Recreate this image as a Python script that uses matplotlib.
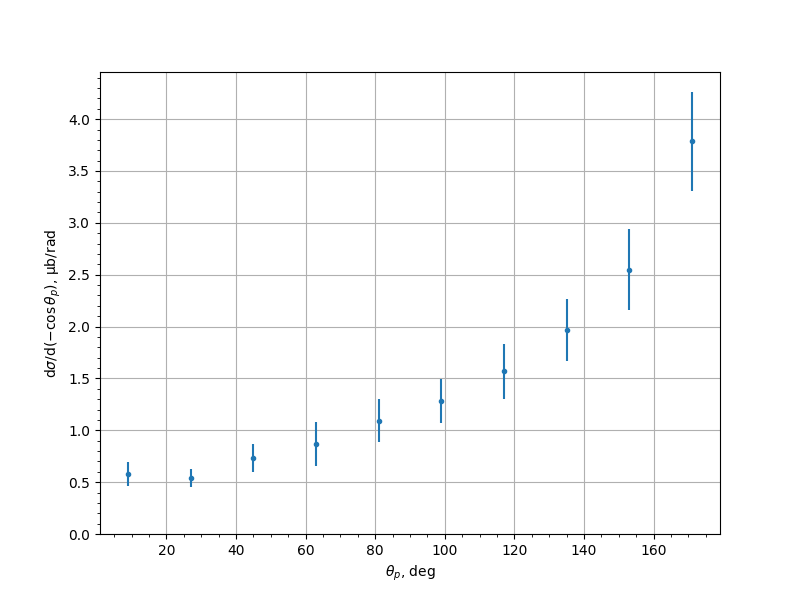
import matplotlib
matplotlib.use('Agg')
import matplotlib.pyplot as plt

# bin centres in theta_p (deg) and measured cross section
theta = [9, 27, 45, 63, 81, 99, 117, 135, 153, 171]
dsigma = [0.577, 0.540, 0.733, 0.870, 1.090, 1.285, 1.570, 1.970, 2.548, 3.787]
err = [0.118, 0.085, 0.134, 0.210, 0.207, 0.212, 0.266, 0.300, 0.390, 0.477]

fig, ax = plt.subplots(figsize=(8, 6), dpi=100)
ax.errorbar(theta, dsigma, yerr=err, fmt='.')
ax.set_ylim(bottom=0)
ax.minorticks_on()
ax.grid(which='major')
ax.set_xlabel(r'$\theta_p$, deg')
ax.set_ylabel(r'd$\sigma$/d($-\cos\theta_p$), μb/rad')
plt.savefig('out.png')
